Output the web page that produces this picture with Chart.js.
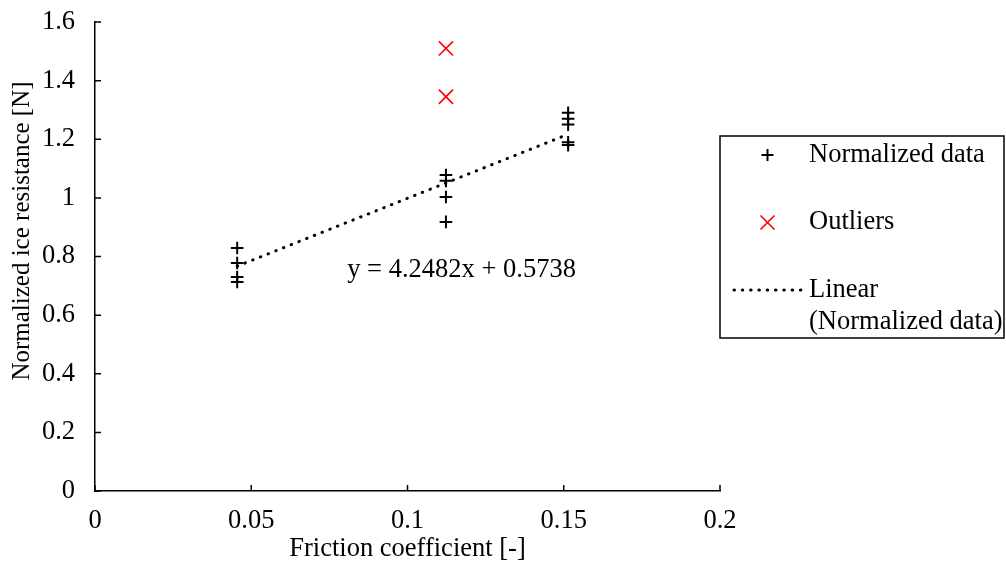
<!DOCTYPE html>
<html>
<head>
<meta charset="utf-8">
<script src="https://cdn.jsdelivr.net/npm/chart.js@4/dist/chart.umd.min.js"></script>
<style>
  html, body { margin: 0; padding: 0; background: #fff; }
  #wrap { width: 1006px; height: 565px; }
</style>
</head>
<body>
<div id="wrap"><canvas id="chart" width="1006" height="565"></canvas></div>
<script>
// values
const normX = [0.0455, 0.0455, 0.0455, 0.0455, 0.1123, 0.1123, 0.1123, 0.1123, 0.1514, 0.1514, 0.1514, 0.1514, 0.1514];
const normY = [0.829, 0.778, 0.730, 0.713, 1.078, 1.058, 1.003, 0.918, 1.290, 1.270, 1.250, 1.190, 1.180];
const outX = [0.1123, 0.1123];
const outY = [1.510, 1.345];
const trendX = [0.0455, 0.1514];
const trendY = [0.767, 1.217];
const xTicks = [0, 0.05, 0.1, 0.15, 0.2];
const yTicks = [0, 0.2, 0.4, 0.6, 0.8, 1, 1.2, 1.4, 1.6];
const equationText = 'y = 4.2482x + 0.5738';
const yTitle = 'Normalized ice resistance [N]';
const legendLabels = ['Normalized data', 'Outliers', 'Linear', '(Normalized data)'];

const FONT = "'Liberation Serif', 'Times New Roman', serif";
const FS = 26.5;

const toPoints = (xs, ys) => xs.map((x, i) => ({ x: x, y: ys[i] }));

// small tick marks pointing into the plot, the y title, the equation and the legend box
const extrasPlugin = {
    id: 'extras',
    afterDraw(chart) {
        const { ctx, scales } = chart;
        const xs = scales.x, ys = scales.y;
        const area = chart.chartArea;
        ctx.save();
        ctx.strokeStyle = '#000';
        ctx.lineWidth = 1.5;
        ctx.beginPath();
        yTicks.forEach(v => {
            const p = ys.getPixelForValue(v);
            ctx.moveTo(area.left, p);
            ctx.lineTo(area.left + 6, p);
        });
        xTicks.forEach(v => {
            const p = xs.getPixelForValue(v);
            ctx.moveTo(p, area.bottom);
            ctx.lineTo(p, area.bottom - 6);
        });
        ctx.stroke();

        ctx.fillStyle = '#000';
        ctx.textBaseline = 'middle';

        // y axis title (sits a bit above the middle of the axis, as in the original)
        ctx.save();
        ctx.translate(22, 231);
        ctx.rotate(-Math.PI / 2);
        ctx.textAlign = 'center';
        ctx.font = '25px ' + FONT;
        ctx.fillText(yTitle, 0, 0);
        ctx.restore();

        // trendline equation
        ctx.font = FS + 'px ' + FONT;
        ctx.textAlign = 'center';
        ctx.fillText(equationText, xs.getPixelForValue(0.1173), ys.getPixelForValue(0.754));

        // legend
        const bx = 720, by = 136, bw = 284, bh = 202;
        ctx.lineWidth = 1.5;
        ctx.strokeRect(bx, by, bw, bh);
        ctx.textAlign = 'left';
        const tx = 809;
        ctx.fillText(legendLabels[0], tx, 155);
        ctx.fillText(legendLabels[1], tx, 222);
        ctx.fillText(legendLabels[2], tx, 290);
        ctx.fillText(legendLabels[3], tx, 322);

        // plus marker
        ctx.lineWidth = 2;
        ctx.beginPath();
        ctx.moveTo(761.5, 155); ctx.lineTo(773.5, 155);
        ctx.moveTo(767.5, 149); ctx.lineTo(767.5, 161);
        ctx.stroke();
        // cross marker
        ctx.strokeStyle = '#ff0000';
        ctx.lineWidth = 1.6;
        ctx.beginPath();
        ctx.moveTo(760.5, 215.5); ctx.lineTo(774.5, 229.5);
        ctx.moveTo(774.5, 215.5); ctx.lineTo(760.5, 229.5);
        ctx.stroke();
        // dotted line
        ctx.strokeStyle = '#000';
        ctx.lineWidth = 3;
        ctx.lineCap = 'round';
        ctx.setLineDash([0.5, 7.8]);
        ctx.beginPath();
        ctx.moveTo(734, 290); ctx.lineTo(802, 290);
        ctx.stroke();
        ctx.restore();
    }
};

new Chart(document.getElementById('chart'), {
    type: 'scatter',
    data: {
        datasets: [
            {
                label: 'Linear (Normalized data)',
                type: 'line',
                data: toPoints(trendX, trendY),
                borderColor: '#000',
                borderWidth: 3,
                borderDash: [0.5, 7.8],
                borderCapStyle: 'round',
                pointRadius: 0,
                fill: false,
                order: 3
            },
            {
                label: 'Normalized data',
                data: toPoints(normX, normY),
                pointStyle: 'cross',
                pointRadius: 6.3,
                pointHoverRadius: 6.3,
                borderColor: '#000',
                borderWidth: 2,
                order: 1
            },
            {
                label: 'Outliers',
                data: toPoints(outX, outY),
                pointStyle: 'crossRot',
                pointRadius: 10,
                pointHoverRadius: 10,
                borderColor: '#ff0000',
                borderWidth: 1.6,
                order: 2
            }
        ]
    },
    options: {
        responsive: false,
        animation: false,
        layout: { padding: { top: 22, right: 286, bottom: 0, left: 0 } },
        plugins: {
            legend: { display: false },
            tooltip: { enabled: false }
        },
        scales: {
            x: {
                type: 'linear',
                min: 0,
                max: 0.2,
                afterFit: s => { s.height = 74; },
                afterBuildTicks: s => { s.ticks = xTicks.map(v => ({ value: v })); },
                grid: { display: false, drawTicks: false },
                border: { display: true, color: '#000', width: 1.5 },
                ticks: {
                    color: '#000',
                    padding: 14,
                    maxRotation: 0,
                    font: { family: FONT, size: FS },
                    callback: v => String(v)
                },
                title: {
                    display: true,
                    text: 'Friction coefficient [-]',
                    color: '#000',
                    padding: { top: 0, bottom: 0 },
                    font: { family: FONT, size: FS }
                }
            },
            y: {
                type: 'linear',
                min: 0,
                max: 1.6,
                afterFit: s => { s.width = 95; s.paddingTop = 0; s.paddingBottom = 0; },
                afterBuildTicks: s => { s.ticks = yTicks.map(v => ({ value: v })); },
                grid: { display: false, drawTicks: false },
                border: { display: true, color: '#000', width: 1.5 },
                ticks: {
                    color: '#000',
                    padding: 20,
                    font: { family: FONT, size: FS },
                    callback: v => String(v)
                },
                title: { display: false }
            }
        }
    },
    plugins: [extrasPlugin]
});
</script>
</body>
</html>
